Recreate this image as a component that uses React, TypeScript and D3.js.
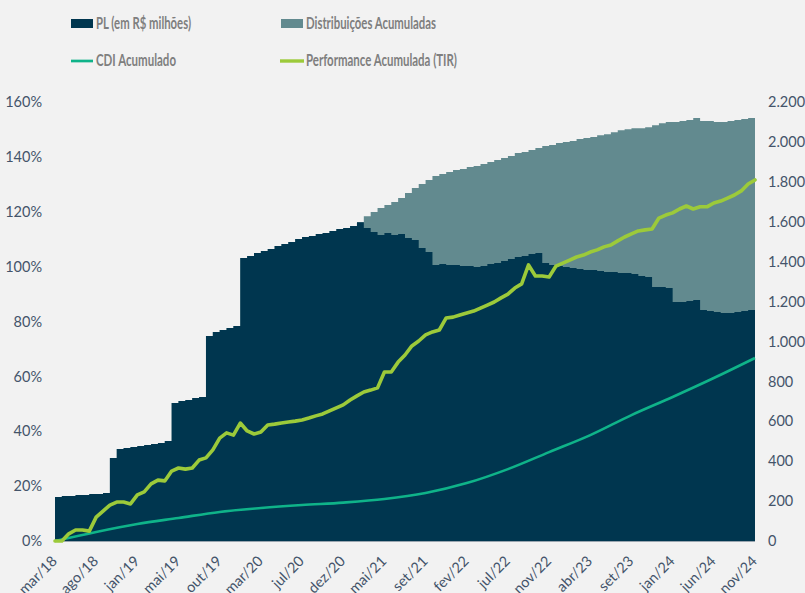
import * as d3 from 'd3';

// x labels, one every 6 data points
const xLabels = ['mar/18', 'ago/18', 'jan/19', 'mai/19', 'out/19', 'mar/20', 'jul/20', 'dez/20', 'mai/21',
  'set/21', 'fev/22', 'jul/22', 'nov/22', 'abr/23', 'set/23', 'jan/24', 'jun/24', 'nov/24'];
const stepPerLabel = 6;

// PL (em R$ milhões)
const plValues = [
  220, 225, 225, 230, 230, 235, 235, 240, 416, 461, 466, 471, 476, 481, 486, 491, 501, 692,
  702, 707, 717, 722, 1027, 1047, 1057, 1067, 1077, 1418, 1428, 1443, 1453, 1463, 1478, 1488,
  1498, 1513, 1523, 1528, 1538, 1543, 1553, 1563, 1568, 1578, 1598, 1568, 1548, 1533, 1543,
  1533, 1538, 1518, 1508, 1468, 1448, 1383, 1388, 1383, 1383, 1378, 1378, 1373, 1378, 1388,
  1393, 1403, 1413, 1423, 1428, 1438, 1443, 1393, 1383, 1378, 1373, 1368, 1363, 1358, 1358,
  1353, 1348, 1348, 1343, 1343, 1338, 1328, 1323, 1273, 1273, 1268, 1198, 1198, 1203, 1208,
  1158, 1153, 1148, 1143, 1143, 1148, 1153, 1158, 1163];

// Distribuições Acumuladas (R$ milhões)
const distValues = [
  0, 0, 0, 0, 0, 0, 0, 0, 0, 0, 0, 0, 0, 0, 0, 0, 0, 0, 0, 0, 0, 0, 0, 0, 0, 0, 0, 0, 0, 0,
  0, 0, 0, 0, 0, 0, 0, 0, 0, 0, 0, 0, 0, 0, 0, 60, 101, 136, 141, 166, 181, 226, 261, 321,
  361, 446, 451, 466, 476, 486, 496, 506, 511, 511, 516, 516, 516, 521, 521, 521, 526, 586,
  601, 616, 626, 636, 651, 661, 666, 681, 691, 701, 716, 721, 731, 741, 751, 811, 821, 832,
  902, 907, 907, 912, 947, 952, 952, 957, 962, 962, 962, 962, 962];

// Performance Acumulada (TIR), %
const tirValues = [
  0, 0, 2.6, 4.0, 4.0, 3.6, 8.7, 10.9, 13.1, 14.2, 14.2, 13.5, 16.8, 17.9, 20.8, 22.2, 21.9,
  25.5, 26.6, 26.2, 26.6, 29.5, 30.3, 33.2, 37.5, 39.4, 38.6, 43.0, 40.1, 39.0, 39.7, 42.3,
  42.6, 43.0, 43.4, 43.7, 44.1, 44.8, 45.6, 46.3, 47.4, 48.5, 49.6, 51.4, 52.9, 54.3, 55.0,
  55.8, 61.6, 61.6, 65.2, 67.8, 71.1, 72.9, 75.1, 76.2, 76.9, 81.3, 81.6, 82.4, 83.1, 83.8,
  84.9, 86.0, 87.1, 88.6, 90.0, 92.2, 93.7, 100.6, 96.6, 96.6, 96.2, 100.2, 101.3, 102.4,
  103.5, 104.2, 105.3, 106.1, 107.2, 107.9, 109.4, 110.8, 111.9, 113.0, 113.4, 113.7, 117.7,
  118.8, 119.6, 121.0, 122.1, 121.0, 121.8, 121.8, 123.2, 123.9, 125.0, 126.1, 127.6, 130.1,
  131.6];

// CDI Acumulado, %, one value per x label
const cdiValues = [0, 3.3, 6.2, 8.4, 10.6, 12.0, 13.1, 14.0, 15.3, 17.5, 21.1, 26.2, 32.4, 38.6,
  45.9, 52.5, 59.4, 66.7];

const leftTicks = [0, 20, 40, 60, 80, 100, 120, 140, 160];
const rightTicks = [0, 200, 400, 600, 800, 1000, 1200, 1400, 1600, 1800, 2000, 2200];

const W = 805, H = 593;
const bg = '#f2f2f2';
const colPL = '#00364f';
const colDist = '#628a8f';
const colCDI = '#0fb389';
const colTIR = '#9cca3a';
const colTick = '#44546a';
const colLegend = '#7f7f7f';

export default function App() {
  const n = plValues.length;
  const x = d3.scaleLinear().domain([0, n - 1]).range([55, 755]);
  const yPct = d3.scaleLinear().domain([0, 160]).range([541, 102]);
  const yVal = d3.scaleLinear().domain([0, 2200]).range([541, 102]);

  const idx = d3.range(n);
  const totalArea = d3.area<number>()
    .curve(d3.curveStepAfter)
    .x(i => x(i))
    .y0(yVal(0))
    .y1(i => yVal(plValues[i] + distValues[i]));
  const plArea = d3.area<number>()
    .curve(d3.curveStepAfter)
    .x(i => x(i))
    .y0(yVal(0))
    .y1(i => yVal(plValues[i]));
  const tirLine = d3.line<number>()
    .x(i => x(i))
    .y(i => yPct(tirValues[i]));
  const cdiLine = d3.line<number>()
    .curve(d3.curveMonotoneX)
    .x(i => x(i * stepPerLabel))
    .y(i => yPct(cdiValues[i]));

  const font = 'Lato, "Open Sans", sans-serif';

  return (
    <svg width={W} height={H} style={{ position: 'absolute', left: 0, top: 0, background: bg }}
      fontFamily={font}>
      <rect width={W} height={H} fill={bg} />

      {/* legend */}
      <g fontWeight="bold" fontSize={17.5} fill={colLegend}>
        <rect x={71} y={19} width={22} height={9} fill={colPL} />
        <text x={96} y={29} textLength={95} lengthAdjust="spacingAndGlyphs">PL (em R$ milhões)</text>
        <rect x={281} y={19} width={22} height={9} fill={colDist} />
        <text x={306} y={29} textLength={130} lengthAdjust="spacingAndGlyphs">Distribuições Acumuladas</text>
        <line x1={71} x2={93} y1={61} y2={61} stroke={colCDI} strokeWidth={2.7} />
        <text x={96} y={66} textLength={80} lengthAdjust="spacingAndGlyphs">CDI Acumulado</text>
        <line x1={280} x2={304} y1={61} y2={61} stroke={colTIR} strokeWidth={3.4} />
        <text x={306} y={66} textLength={151} lengthAdjust="spacingAndGlyphs">Performance Acumulada (TIR)</text>
      </g>

      {/* areas */}
      <path d={totalArea(idx) || ''} fill={colDist} />
      <path d={plArea(idx) || ''} fill={colPL} />
      <line x1={55} x2={755} y1={541.5} y2={541.5} stroke="#9aa6b0" strokeWidth={1} />

      {/* lines */}
      <path d={cdiLine(d3.range(cdiValues.length)) || ''} fill="none" stroke={colCDI} strokeWidth={2.6} />
      <path d={tirLine(idx) || ''} fill="none" stroke={colTIR} strokeWidth={3.6}
        strokeLinejoin="round" strokeLinecap="round" />

      {/* left axis */}
      <g fontSize={14.5} fill={colTick} textAnchor="end">
        {leftTicks.map(t => (
          <text key={t} x={42} y={yPct(t)} dy="0.36em">{t}%</text>
        ))}
      </g>

      {/* right axis */}
      <g fontSize={14.5} fill={colTick} textAnchor="start">
        {rightTicks.map(t => (
          <text key={t} x={768} y={yVal(t)} dy="0.36em">{d3.format(',')(t).replace(/,/g, '.')}</text>
        ))}
      </g>

      {/* x axis labels */}
      <g fontSize={14.5} fill={colTick} textAnchor="end">
        {xLabels.map((l, k) => {
          const px = x(k * stepPerLabel) + 3;
          const py = 562;
          return (
            <text key={l} x={px} y={py} transform={`rotate(-45 ${px} ${py})`}>{l}</text>
          );
        })}
      </g>
    </svg>
  );
}
